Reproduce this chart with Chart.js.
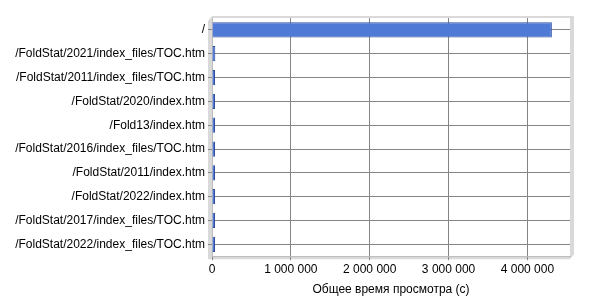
<!DOCTYPE html>
<html>
<head>
<meta charset="utf-8">
<script src="https://cdn.jsdelivr.net/npm/chart.js@4"></script>
<style>
  body { margin: 0; background: #ffffff; }
</style>
</head>
<body>
<canvas id="bar-chart" width="600" height="300"></canvas>
<script>
const pages = [
	"/",
	"/FoldStat/2021/index_files/TOC.htm",
	"/FoldStat/2011/index_files/TOC.htm",
	"/FoldStat/2020/index.htm",
	"/Fold13/index.htm",
	"/FoldStat/2016/index_files/TOC.htm",
	"/FoldStat/2011/index.htm",
	"/FoldStat/2022/index.htm",
	"/FoldStat/2017/index_files/TOC.htm",
	"/FoldStat/2022/index_files/TOC.htm",
];
const viewTime = [4310000, 42000, 38000, 36000, 34000, 32000, 30000, 28000, 27000, 26000];
const xTicks = [0, 1000000, 2000000, 3000000, 4000000];

// light 3D wall behind the plot
const wall = {
	id: "wall",
	beforeDraw(chart) {
		const { ctx, chartArea: a } = chart;
		ctx.save();
		ctx.fillStyle = "#d9d9d9";
		ctx.beginPath();
		ctx.moveTo(a.left - 4, a.top + 3);
		ctx.lineTo(a.left, a.top - 2);
		ctx.lineTo(a.right + 4, a.top - 2);
		ctx.lineTo(a.right + 4, a.bottom - 2);
		ctx.lineTo(a.right, a.bottom + 3);
		ctx.lineTo(a.left - 4, a.bottom + 3);
		ctx.closePath();
		ctx.fill();
		ctx.fillStyle = "#ffffff";
		ctx.fillRect(a.left, a.top, a.right - a.left, a.bottom - a.top);
		ctx.restore();
	},
};

new Chart(document.getElementById("bar-chart"), {
	type: "bar",
	data: {
		labels: pages,
		datasets: [
			{
				label: "Общее время просмотра (с)",
				backgroundColor: "#4f7ad6",
				borderColor: "#2f4f9c",
				borderWidth: 1,
				data: viewTime,
				categoryPercentage: 1,
				barPercentage: 0.64,
				minBarLength: 3,
			},
		],
	},
	plugins: [wall],
	options: {
		responsive: false,
		animation: false,
		indexAxis: "y",
		layout: { padding: { top: 18, right: 30, left: 4, bottom: 3 } },
		plugins: {
			legend: { display: false },
			tooltip: { enabled: false },
		},
		scales: {
			x: {
				min: 0,
				max: 4540000,
				afterBuildTicks(scale) {
					scale.ticks = xTicks.map((v) => ({ value: v }));
				},
				grid: { color: "#858585", drawTicks: true, tickLength: 4 },
				border: { color: "#bdbdbd" },
				ticks: {
					color: "#000000",
					font: { family: "Liberation Sans", size: 12 },
					maxRotation: 0,
					padding: 2,
					callback: (v) => v.toLocaleString("ru-RU").replace(/\s/g, " "),
				},
				title: {
					display: true,
					text: "Общее время просмотра (с)",
					color: "#000000",
					font: { family: "Liberation Sans", size: 12 },
					padding: { top: 4, bottom: 0 },
				},
			},
			y: {
				afterFit(scale) {
					scale.width = 208;
				},
				grid: { color: "#858585", tickLength: 4, offset: false },
				border: { color: "#bdbdbd" },
				ticks: {
					color: "#000000",
					font: { family: "Liberation Sans", size: 12 },
					padding: 3,
				},
			},
		},
	},
});
</script>
</body>
</html>
